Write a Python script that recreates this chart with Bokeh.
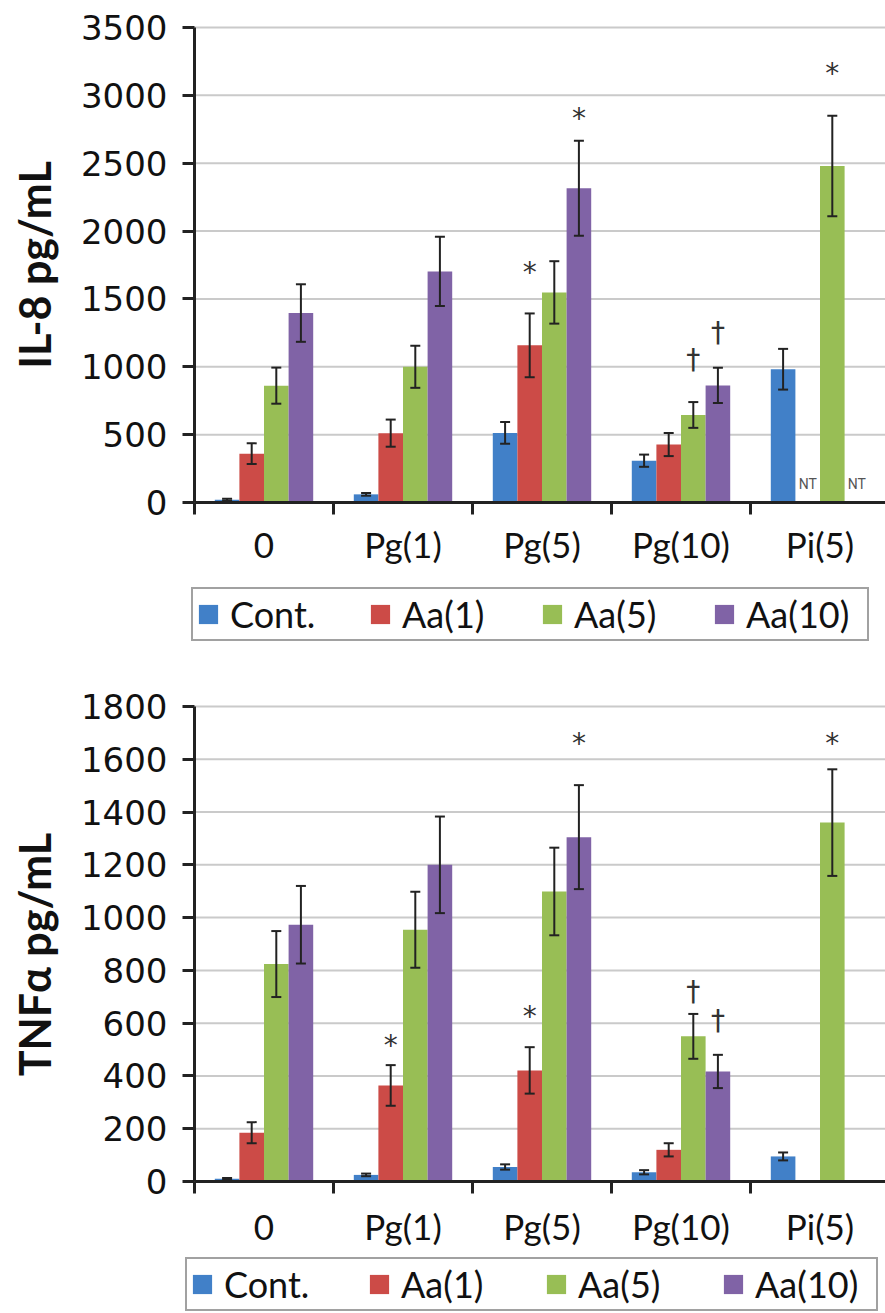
import math
from bokeh.plotting import figure
from bokeh.models import (ColumnDataSource, Range1d, FixedTicker, Whisker, TeeHead,
                          Legend, LegendItem)
from bokeh.layouts import column
from bokeh.core.properties import value
from bokeh.embed import file_html
from bokeh.resources import INLINE

NaN = float("nan")

categories = ["0", "Pg(1)", "Pg(5)", "Pg(10)", "Pi(5)"]
series = ["Cont.", "Aa(1)", "Aa(5)", "Aa(10)"]
colors = ["#4180C8", "#CC4B47", "#98BE55", "#8063A6"]

# ---- IL-8 (top panel) ----
il8_cont = [20, 60, 513, 308, 982]
il8_cont_err = [8, 10, 80, 45, 150]
il8_aa1 = [360, 511, 1158, 427, NaN]
il8_aa1_err = [76, 100, 235, 85, NaN]
il8_aa5 = [861, 1000, 1548, 645, 2480]
il8_aa5_err = [133, 155, 230, 95, 370]
il8_aa10 = [1396, 1703, 2316, 863, NaN]
il8_aa10_err = [212, 255, 350, 130, NaN]
il8_ticks = [0, 500, 1000, 1500, 2000, 2500, 3000, 3500]
il8_sig_cat = ["Pg(5)", "Pg(5)", "Pg(10)", "Pg(10)", "Pi(5)"]
il8_sig_series = ["Aa(1)", "Aa(10)", "Aa(5)", "Aa(10)", "Aa(5)"]
il8_sig_text = ["*", "*", "\u2020", "\u2020", "*"]
il8_sig_y = [1693, 2831, 1053, 1251, 3160]
il8_nt_cat = ["Pi(5)", "Pi(5)"]
il8_nt_series = ["Aa(1)", "Aa(10)"]

# ---- TNF-alpha (bottom panel) ----
tnf_cont = [10, 25, 55, 35, 95]
tnf_cont_err = [3, 5, 10, 8, 15]
tnf_aa1 = [185, 364, 421, 120, NaN]
tnf_aa1_err = [40, 77, 88, 25, NaN]
tnf_aa5 = [824, 954, 1099, 550, 1360]
tnf_aa5_err = [125, 144, 166, 85, 202]
tnf_aa10 = [973, 1200, 1305, 417, NaN]
tnf_aa10_err = [147, 183, 197, 63, NaN]
tnf_ticks = [0, 200, 400, 600, 800, 1000, 1200, 1400, 1600, 1800]
tnf_sig_cat = ["Pg(1)", "Pg(5)", "Pg(5)", "Pg(10)", "Pg(10)", "Pi(5)"]
tnf_sig_series = ["Aa(1)", "Aa(1)", "Aa(10)", "Aa(5)", "Aa(10)", "Aa(5)"]
tnf_sig_text = ["*", "*", "*", "\u2020", "\u2020", "*"]
tnf_sig_y = [516, 625, 1659, 720, 611, 1659]

BAR_W = 0.177
OFFSETS = [-1.5 * BAR_W, -0.5 * BAR_W, 0.5 * BAR_W, 1.5 * BAR_W]
CAT_PX = 139.0          # pixel width of one category
AXIS_X_PX = 194         # pixel position of the value axis
WIDTH = 885
X_START = -AXIS_X_PX / CAT_PX
X_END = (WIDTH - AXIS_X_PX) / CAT_PX
AXIS_COLOR = "#222222"
PLOT_PX = 475           # pixel height of the value axis (0 .. max)
TITLE_X_PX = 34         # centre of the rotated value-axis title


def xpos(cat, ser):
    return categories.index(cat) + 0.5 + OFFSETS[series.index(ser)]


def make_chart(vals, errs, ymax, yticks, ylabel, title_y, sig_cat, sig_ser, sig_txt,
               sig_y, nt_cat, nt_ser, height, top_px, cat_standoff, legend_loc,
               legend_label_width, legend_spacing):
    per_px = ymax / PLOT_PX
    below_px = height - top_px - PLOT_PX
    y_lo = -below_px * per_px
    y_hi = ymax + top_px * per_px
    p = figure(width=WIDTH, height=height, x_range=Range1d(X_START, X_END),
               y_range=Range1d(y_lo, y_hi), output_backend="svg", toolbar_location=None,
               min_border_left=0, min_border_right=0, min_border_top=0,
               min_border_bottom=0)
    p.outline_line_color = None
    p.xgrid.visible = False
    p.ygrid.visible = False

    # horizontal gridlines spanning only the category area
    gt = yticks[1:]
    p.segment(x0=[0] * len(gt), x1=[X_END] * len(gt), y0=gt, y1=gt,
              line_color="#cacaca", line_width=2, level="underlay")

    items = []
    for k, ser in enumerate(series):
        xs, tops, ups, lows = [], [], [], []
        for i, cat in enumerate(categories):
            v = vals[k][i]
            if v is None or (isinstance(v, float) and math.isnan(v)):
                continue
            e = errs[k][i]
            xs.append(xpos(cat, ser))
            tops.append(v)
            ups.append(v + e)
            lows.append(v - e)
        src = ColumnDataSource(dict(x=xs, top=tops, upper=ups, lower=lows))
        r = p.vbar(x="x", top="top", width=BAR_W, bottom=0, source=src,
                   fill_color=colors[k], line_color=None)
        items.append(LegendItem(label=ser, renderers=[r]))
        wk = Whisker(base="x", upper="upper", lower="lower", source=src,
                     level="overlay",
                     line_color=AXIS_COLOR, line_width=2,
                     upper_head=TeeHead(size=10, line_color=AXIS_COLOR, line_width=2),
                     lower_head=TeeHead(size=10, line_color=AXIS_COLOR, line_width=2))
        p.add_layout(wk)

    sig_src = ColumnDataSource(dict(x=[xpos(c, s) for c, s in zip(sig_cat, sig_ser)],
                                    y=sig_y, t=sig_txt))
    p.text(x="x", y="y", text="t", source=sig_src, text_font=value("DejaVu Sans"),
           text_font_size="28px", text_align="center", text_baseline="middle",
           text_color="#333333")

    if nt_cat:
        nt_src = ColumnDataSource(dict(x=[xpos(c, s) for c, s in zip(nt_cat, nt_ser)],
                                       y=[0] * len(nt_cat), t=["NT"] * len(nt_cat)))
        p.text(x="x", y="y", text="t", source=nt_src,
               text_font=value("Roboto"),
               text_font_size="14px", text_align="center", text_baseline="middle",
               y_offset=-19, text_color="#555555")

    # value-axis title (rotated), centred on the value range
    p.text(x=[(TITLE_X_PX - AXIS_X_PX) / CAT_PX], y=[title_y], text=[ylabel],
           angle=math.pi / 2, text_font=value("Lato"), text_font_style="bold",
           text_font_size="43px", text_align="center", text_baseline="middle",
           text_color="#111111")

    # y axis drawn at category position 0
    ya = p.yaxis[0]
    ya.fixed_location = 0
    ya.ticker = FixedTicker(ticks=yticks)
    ya.bounds = (0, ymax)
    ya.axis_line_color = AXIS_COLOR
    ya.axis_line_width = 3
    ya.major_tick_line_color = AXIS_COLOR
    ya.major_tick_line_width = 3
    ya.major_tick_out = 12
    ya.major_tick_in = 0
    ya.minor_tick_line_color = None
    ya.major_label_text_font = "DejaVu Sans"
    ya.major_label_text_font_size = "34px"
    ya.major_label_text_color = "#111111"
    ya.major_label_standoff = 15

    # x axis drawn at value 0 (category labels centred, ticks on boundaries)
    xa = p.xaxis[0]
    xa.fixed_location = 0
    xa.bounds = (0, X_END)
    centers = [i + 0.5 for i in range(len(categories))]
    xa.ticker = FixedTicker(ticks=centers, minor_ticks=list(range(len(categories))))
    xa.major_label_overrides = {c: name for c, name in zip(centers, categories)}
    xa.axis_line_color = AXIS_COLOR
    xa.axis_line_width = 3
    xa.major_tick_line_color = None
    xa.major_tick_out = 0
    xa.major_tick_in = 0
    xa.minor_tick_line_color = AXIS_COLOR
    xa.minor_tick_line_width = 3
    xa.minor_tick_out = 12
    xa.minor_tick_in = 0
    xa.major_label_text_font = "Lato"
    xa.major_label_text_font_size = "35px"
    xa.major_label_text_color = "#111111"
    xa.major_label_standoff = cat_standoff

    legend = Legend(items=items, orientation="horizontal", location=legend_loc,
                    margin=0, padding=3, spacing=legend_spacing,
                    label_width=legend_label_width,
                    glyph_width=24, glyph_height=24, label_standoff=10,
                    label_text_font="Lato", label_text_font_size="36px",
                    label_text_color="#111111",
                    border_line_color="#444444", border_line_width=2)
    p.add_layout(legend, "center")
    return p


p1 = make_chart([il8_cont, il8_aa1, il8_aa5, il8_aa10],
                [il8_cont_err, il8_aa1_err, il8_aa5_err, il8_aa10_err],
                3500, il8_ticks, "IL-8 pg/mL", 1750,
                il8_sig_cat, il8_sig_series, il8_sig_text, il8_sig_y,
                il8_nt_cat, il8_nt_series, 655, 27, 8, (191, 14), 118, 20)

p2 = make_chart([tnf_cont, tnf_aa1, tnf_aa5, tnf_aa10],
                [tnf_cont_err, tnf_aa1_err, tnf_aa5_err, tnf_aa10_err],
                1800, tnf_ticks, "TNF\u03b1 pg/mL", 860,
                tnf_sig_cat, tnf_sig_series, tnf_sig_text, tnf_sig_y,
                [], [], 658, 51, 11, (185, 2), 118, 25)

layout = column(p1, p2, spacing=0)
open("out.html", "w").write(file_html(layout, INLINE))
